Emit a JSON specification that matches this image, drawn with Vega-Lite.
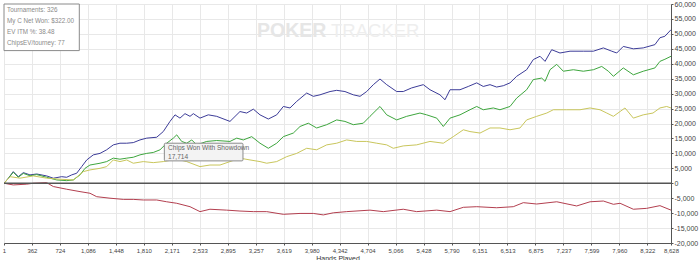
{
  "$schema": "https://vega.github.io/schema/vega-lite/v6.json",
  "width": 667,
  "height": 239,
  "autosize": {"type": "none"},
  "padding": {"left": 4, "top": 4, "right": 29, "bottom": 17},
  "background": "white",
  "config": {"view": {"stroke": "#666", "strokeWidth": 1}},
  "datasets": {
    "lines": [
      {"s":"b","h":1,"v":0},{"s":"b","h":53,"v":1500},{"s":"b","h":121,"v":3900},{"s":"b","h":186,"v":2200},{"s":"b","h":251,"v":3560},{"s":"b","h":337,"v":2800},{"s":"b","h":424,"v":3100},{"s":"b","h":553,"v":2450},{"s":"b","h":639,"v":1680},{"s":"b","h":747,"v":2200},{"s":"b","h":812,"v":2000},{"s":"b","h":877,"v":2800},{"s":"b","h":941,"v":3350},{"s":"b","h":1006,"v":5570},{"s":"b","h":1071,"v":7800},{"s":"b","h":1156,"v":9500},{"s":"b","h":1243,"v":10000},{"s":"b","h":1329,"v":11200},{"s":"b","h":1415,"v":12850},{"s":"b","h":1501,"v":13400},{"s":"b","h":1588,"v":13400},{"s":"b","h":1673,"v":13600},{"s":"b","h":1760,"v":14500},{"s":"b","h":1847,"v":15100},{"s":"b","h":1976,"v":15400},{"s":"b","h":2061,"v":17300},{"s":"b","h":2148,"v":20700},{"s":"b","h":2213,"v":22900},{"s":"b","h":2277,"v":21800},{"s":"b","h":2342,"v":23300},{"s":"b","h":2407,"v":22400},{"s":"b","h":2450,"v":23300},{"s":"b","h":2536,"v":21800},{"s":"b","h":2643,"v":22900},{"s":"b","h":2752,"v":22400},{"s":"b","h":2924,"v":20700},{"s":"b","h":3053,"v":24000},{"s":"b","h":3140,"v":23500},{"s":"b","h":3226,"v":24800},{"s":"b","h":3312,"v":22900},{"s":"b","h":3420,"v":21500},{"s":"b","h":3528,"v":22900},{"s":"b","h":3614,"v":25700},{"s":"b","h":3700,"v":25200},{"s":"b","h":3787,"v":27400},{"s":"b","h":3916,"v":30200},{"s":"b","h":4002,"v":29100},{"s":"b","h":4088,"v":29600},{"s":"b","h":4218,"v":30700},{"s":"b","h":4304,"v":31100},{"s":"b","h":4411,"v":30700},{"s":"b","h":4519,"v":29600},{"s":"b","h":4606,"v":29100},{"s":"b","h":4692,"v":30700},{"s":"b","h":4778,"v":33000},{"s":"b","h":4864,"v":34900},{"s":"b","h":4951,"v":33000},{"s":"b","h":5080,"v":30700},{"s":"b","h":5165,"v":30700},{"s":"b","h":5273,"v":31900},{"s":"b","h":5424,"v":33000},{"s":"b","h":5511,"v":31300},{"s":"b","h":5640,"v":29600},{"s":"b","h":5705,"v":27950},{"s":"b","h":5770,"v":31300},{"s":"b","h":5899,"v":31300},{"s":"b","h":6006,"v":32400},{"s":"b","h":6115,"v":33600},{"s":"b","h":6200,"v":32400},{"s":"b","h":6287,"v":33000},{"s":"b","h":6373,"v":32200},{"s":"b","h":6459,"v":32650},{"s":"b","h":6546,"v":33600},{"s":"b","h":6632,"v":35800},{"s":"b","h":6761,"v":38000},{"s":"b","h":6847,"v":41400},{"s":"b","h":6934,"v":42500},{"s":"b","h":6999,"v":40800},{"s":"b","h":7085,"v":44700},{"s":"b","h":7192,"v":43600},{"s":"b","h":7322,"v":44200},{"s":"b","h":7494,"v":44200},{"s":"b","h":7624,"v":44200},{"s":"b","h":7753,"v":45300},{"s":"b","h":7862,"v":44200},{"s":"b","h":7926,"v":43600},{"s":"b","h":8011,"v":45800},{"s":"b","h":8141,"v":45000},{"s":"b","h":8269,"v":45300},{"s":"b","h":8420,"v":46400},{"s":"b","h":8485,"v":48700},{"s":"b","h":8549,"v":49200},{"s":"b","h":8628,"v":51400},
      {"s":"g","h":1,"v":0},{"s":"g","h":53,"v":1500},{"s":"g","h":121,"v":3700},{"s":"g","h":186,"v":2000},{"s":"g","h":251,"v":3300},{"s":"g","h":337,"v":2500},{"s":"g","h":424,"v":2900},{"s":"g","h":553,"v":2000},{"s":"g","h":683,"v":1100},{"s":"g","h":812,"v":870},{"s":"g","h":897,"v":1100},{"s":"g","h":984,"v":2800},{"s":"g","h":1049,"v":5000},{"s":"g","h":1113,"v":6100},{"s":"g","h":1243,"v":6700},{"s":"g","h":1329,"v":7250},{"s":"g","h":1415,"v":8400},{"s":"g","h":1501,"v":8050},{"s":"g","h":1588,"v":8400},{"s":"g","h":1673,"v":8700},{"s":"g","h":1760,"v":9500},{"s":"g","h":1847,"v":10000},{"s":"g","h":1932,"v":10300},{"s":"g","h":2019,"v":11200},{"s":"g","h":2105,"v":13400},{"s":"g","h":2191,"v":15100},{"s":"g","h":2235,"v":16200},{"s":"g","h":2299,"v":14000},{"s":"g","h":2364,"v":13400},{"s":"g","h":2429,"v":14500},{"s":"g","h":2493,"v":12850},{"s":"g","h":2623,"v":14000},{"s":"g","h":2752,"v":14300},{"s":"g","h":2924,"v":14000},{"s":"g","h":3011,"v":15100},{"s":"g","h":3096,"v":14500},{"s":"g","h":3205,"v":15600},{"s":"g","h":3312,"v":13400},{"s":"g","h":3420,"v":11700},{"s":"g","h":3528,"v":13400},{"s":"g","h":3614,"v":15600},{"s":"g","h":3743,"v":16800},{"s":"g","h":3830,"v":19000},{"s":"g","h":3937,"v":20100},{"s":"g","h":4045,"v":18500},{"s":"g","h":4175,"v":19600},{"s":"g","h":4304,"v":21200},{"s":"g","h":4411,"v":20700},{"s":"g","h":4519,"v":19600},{"s":"g","h":4648,"v":20100},{"s":"g","h":4735,"v":22400},{"s":"g","h":4864,"v":25700},{"s":"g","h":4951,"v":22900},{"s":"g","h":5080,"v":21200},{"s":"g","h":5209,"v":22400},{"s":"g","h":5381,"v":23500},{"s":"g","h":5468,"v":22900},{"s":"g","h":5598,"v":21800},{"s":"g","h":5683,"v":19000},{"s":"g","h":5770,"v":21800},{"s":"g","h":5899,"v":22900},{"s":"g","h":6028,"v":24600},{"s":"g","h":6115,"v":25700},{"s":"g","h":6200,"v":24600},{"s":"g","h":6330,"v":25200},{"s":"g","h":6416,"v":24600},{"s":"g","h":6546,"v":25700},{"s":"g","h":6632,"v":28500},{"s":"g","h":6761,"v":31300},{"s":"g","h":6847,"v":34700},{"s":"g","h":6956,"v":35200},{"s":"g","h":6999,"v":34100},{"s":"g","h":7063,"v":38000},{"s":"g","h":7150,"v":39800},{"s":"g","h":7235,"v":37500},{"s":"g","h":7365,"v":38000},{"s":"g","h":7494,"v":37500},{"s":"g","h":7624,"v":38000},{"s":"g","h":7732,"v":39100},{"s":"g","h":7818,"v":37500},{"s":"g","h":7883,"v":35800},{"s":"g","h":8011,"v":38600},{"s":"g","h":8141,"v":36300},{"s":"g","h":8269,"v":37500},{"s":"g","h":8420,"v":38600},{"s":"g","h":8485,"v":40800},{"s":"g","h":8549,"v":41500},{"s":"g","h":8628,"v":42500},
      {"s":"y","h":1,"v":0},{"s":"y","h":79,"v":2200},{"s":"y","h":208,"v":1700},{"s":"y","h":380,"v":2450},{"s":"y","h":553,"v":1700},{"s":"y","h":725,"v":1350},{"s":"y","h":897,"v":1100},{"s":"y","h":1027,"v":3900},{"s":"y","h":1113,"v":4460},{"s":"y","h":1243,"v":5000},{"s":"y","h":1329,"v":5570},{"s":"y","h":1415,"v":7800},{"s":"y","h":1501,"v":7250},{"s":"y","h":1588,"v":7800},{"s":"y","h":1673,"v":6700},{"s":"y","h":1803,"v":7250},{"s":"y","h":1932,"v":6900},{"s":"y","h":2061,"v":7250},{"s":"y","h":2235,"v":8050},{"s":"y","h":2364,"v":7250},{"s":"y","h":2536,"v":5570},{"s":"y","h":2665,"v":6100},{"s":"y","h":2795,"v":6100},{"s":"y","h":3053,"v":8400},{"s":"y","h":3183,"v":7800},{"s":"y","h":3312,"v":7250},{"s":"y","h":3399,"v":6700},{"s":"y","h":3528,"v":7250},{"s":"y","h":3657,"v":8900},{"s":"y","h":3787,"v":10000},{"s":"y","h":3916,"v":11700},{"s":"y","h":4045,"v":11200},{"s":"y","h":4175,"v":12850},{"s":"y","h":4304,"v":13400},{"s":"y","h":4433,"v":14500},{"s":"y","h":4563,"v":14000},{"s":"y","h":4692,"v":14000},{"s":"y","h":4822,"v":13400},{"s":"y","h":4951,"v":12850},{"s":"y","h":5036,"v":11700},{"s":"y","h":5165,"v":12500},{"s":"y","h":5338,"v":12850},{"s":"y","h":5511,"v":14000},{"s":"y","h":5683,"v":13400},{"s":"y","h":5812,"v":15600},{"s":"y","h":5942,"v":17900},{"s":"y","h":6028,"v":17300},{"s":"y","h":6158,"v":16800},{"s":"y","h":6287,"v":18500},{"s":"y","h":6416,"v":18500},{"s":"y","h":6546,"v":17900},{"s":"y","h":6675,"v":18500},{"s":"y","h":6761,"v":21200},{"s":"y","h":6891,"v":22400},{"s":"y","h":7021,"v":23500},{"s":"y","h":7106,"v":24600},{"s":"y","h":7279,"v":24600},{"s":"y","h":7451,"v":24600},{"s":"y","h":7581,"v":25200},{"s":"y","h":7710,"v":24600},{"s":"y","h":7797,"v":23500},{"s":"y","h":7883,"v":22400},{"s":"y","h":7969,"v":24000},{"s":"y","h":8033,"v":25200},{"s":"y","h":8141,"v":21800},{"s":"y","h":8269,"v":22900},{"s":"y","h":8395,"v":23500},{"s":"y","h":8485,"v":25200},{"s":"y","h":8572,"v":25700},{"s":"y","h":8628,"v":25200},
      {"s":"r","h":1,"v":0},{"s":"r","h":121,"v":-570},{"s":"r","h":295,"v":-300},{"s":"r","h":380,"v":0},{"s":"r","h":553,"v":200},{"s":"r","h":639,"v":-1100},{"s":"r","h":812,"v":-2000},{"s":"r","h":984,"v":-2800},{"s":"r","h":1113,"v":-3350},{"s":"r","h":1200,"v":-4500},{"s":"r","h":1372,"v":-5000},{"s":"r","h":1544,"v":-5400},{"s":"r","h":1673,"v":-5400},{"s":"r","h":1803,"v":-5600},{"s":"r","h":1976,"v":-5600},{"s":"r","h":2105,"v":-6200},{"s":"r","h":2235,"v":-6700},{"s":"r","h":2407,"v":-7850},{"s":"r","h":2536,"v":-9500},{"s":"r","h":2665,"v":-8700},{"s":"r","h":2881,"v":-9000},{"s":"r","h":3053,"v":-9300},{"s":"r","h":3226,"v":-9500},{"s":"r","h":3399,"v":-9500},{"s":"r","h":3614,"v":-10400},{"s":"r","h":3830,"v":-10100},{"s":"r","h":4002,"v":-10100},{"s":"r","h":4131,"v":-10600},{"s":"r","h":4260,"v":-9900},{"s":"r","h":4433,"v":-9500},{"s":"r","h":4735,"v":-9000},{"s":"r","h":4907,"v":-9500},{"s":"r","h":5165,"v":-8700},{"s":"r","h":5338,"v":-9500},{"s":"r","h":5598,"v":-9000},{"s":"r","h":5770,"v":-9500},{"s":"r","h":5942,"v":-8050},{"s":"r","h":6115,"v":-7850},{"s":"r","h":6373,"v":-8200},{"s":"r","h":6588,"v":-7850},{"s":"r","h":6718,"v":-6500},{"s":"r","h":6891,"v":-6950},{"s":"r","h":7150,"v":-6200},{"s":"r","h":7408,"v":-7600},{"s":"r","h":7581,"v":-6200},{"s":"r","h":7753,"v":-5950},{"s":"r","h":7883,"v":-7050},{"s":"r","h":7969,"v":-6700},{"s":"r","h":8141,"v":-8700},{"s":"r","h":8313,"v":-8400},{"s":"r","h":8485,"v":-7500},{"s":"r","h":8628,"v":-9000}
    ]
  },
  "encoding": {
    "x": {
      "field": "h", "type": "quantitative",
      "scale": {"domain": [1, 8628], "nice": false, "zero": false},
      "axis": {
        "values": [1,362,724,1086,1448,1810,2171,2533,2895,3257,3619,3980,4342,4704,5066,5428,5790,6151,6513,6875,7237,7599,7960,8322,8628],
        "labelExpr": "format(datum.value, ',')", "title": "Hands Played", "labelFlush": false, "labelOverlap": false,
        "grid": true, "gridColor": "#e8e8e8", "gridWidth": 1,
        "tickSize": 2, "tickColor": "#555", "domainColor": "#555",
        "labelFont": "Liberation Sans", "labelFontSize": 6, "labelColor": "#444", "labelPadding": 2,
        "titleFont": "Liberation Sans", "titleFontSize": 7, "titleFontWeight": "normal", "titleColor": "#333", "titlePadding": 1
      }
    },
    "y": {
      "field": "v", "type": "quantitative",
      "scale": {"domain": [-20000, 60000], "nice": false},
      "axis": {
        "orient": "right", "title": null,
        "values": [-20000,-15000,-10000,-5000,0,5000,10000,15000,20000,25000,30000,35000,40000,45000,50000,55000,60000],
        "labelExpr": "(datum.value < 0 ? '-' : '') + format(abs(datum.value), ',')",
        "grid": true, "gridColor": "#e8e8e8", "gridWidth": 1,
        "tickSize": 2, "tickColor": "#555", "domainColor": "#555",
        "labelFont": "Liberation Sans", "labelFontSize": 7, "labelColor": "#444", "labelPadding": 1
      }
    }
  },
  "layer": [
    {
      "data": {"values": [
        {"h": 3273, "v": 51100, "label": "POKER"}
      ]},
      "mark": {"type": "text", "align": "left", "baseline": "middle", "font": "Liberation Sans", "fontSize": 19.5, "fontWeight": "bold", "color": "#e6e6e6"},
      "encoding": {"text": {"field": "label"}}
    },
    {
      "data": {"values": [
        {"h": 4231, "v": 51100, "label": "TRACKER"}
      ]},
      "mark": {"type": "text", "align": "left", "baseline": "middle", "font": "Liberation Sans", "fontSize": 18.5, "color": "#eeeeee"},
      "encoding": {"text": {"field": "label"}}
    },
    {
      "data": {"name": "lines"},
      "mark": {"type": "line", "strokeWidth": 1, "clip": true},
      "encoding": {
        "color": {"field": "s", "type": "nominal", "legend": null,
          "scale": {"domain": ["b", "g", "y", "r"], "range": ["#3c3c98", "#3ea63e", "#c9c65c", "#b33f4f"]}}
      }
    },
    {
      "data": {"values": [{"h": 1, "h2": 8628, "v": 0}]},
      "mark": {"type": "rule", "color": "#555", "strokeWidth": 1.3},
      "encoding": {"x2": {"field": "h2"}}
    },
    {
      "data": {"values": [{"h": 1, "h2": 975, "v": 60000, "v2": 44400}]},
      "mark": {"type": "rect", "fill": "white", "stroke": "#8a8a8a", "strokeWidth": 1},
      "encoding": {"x2": {"field": "h2"}, "y2": {"field": "v2"}}
    },
    {
      "data": {"values": [
        {"h": 40, "v": 58150, "label": "Tournaments: 326"},
        {"h": 40, "v": 54400, "label": "My C Net Won: $322.00"},
        {"h": 40, "v": 50600, "label": "EV ITM %: 38.48"},
        {"h": 40, "v": 46950, "label": "ChipsEV/tourney: 77"}
      ]},
      "mark": {"type": "text", "align": "left", "baseline": "middle", "font": "Liberation Sans", "fontSize": 6.3, "color": "#8a8a8a"},
      "encoding": {"text": {"field": "label"}}
    },
    {
      "data": {"values": [{"h": 2075, "h2": 3092, "v": 13400, "v2": 7480}]},
      "mark": {"type": "rect", "fill": "#f3f3f3", "stroke": "#8c8c8c", "strokeWidth": 1, "cornerRadius": 1},
      "encoding": {"x2": {"field": "h2"}, "y2": {"field": "v2"}}
    },
    {
      "data": {"values": [
        {"h": 2122, "v": 11700, "label": "Chips Won With Showdown"},
        {"h": 2122, "v": 8950, "label": "17,714"}
      ]},
      "mark": {"type": "text", "align": "left", "baseline": "middle", "font": "Liberation Sans", "fontSize": 6.6, "color": "#666"},
      "encoding": {"text": {"field": "label"}}
    }
  ]
}
